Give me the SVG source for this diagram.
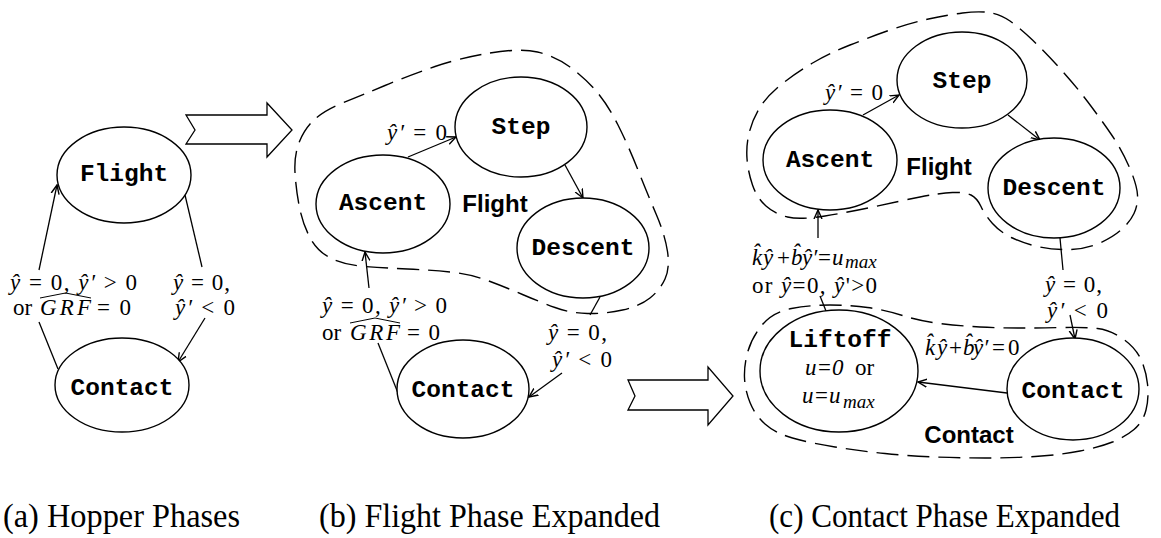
<svg xmlns="http://www.w3.org/2000/svg" width="1161" height="538" viewBox="0 0 1161 538">
  <style>
    .bg { fill: #fff; }
    .node { fill: #fff; stroke: #000; stroke-width: 1.4; }
    .mono { font-family: "Liberation Mono", "Courier New", monospace; font-weight: bold; font-size: 24.5px; text-anchor: middle; fill: #000; }
    .math { font-family: "Liberation Serif", "Times New Roman", serif; font-size: 23px; fill: #000; }
    .i { font-style: italic; }
    .sub { font-size: 19px; font-style: italic; }
    .region { font-family: "Liberation Sans", Arial, sans-serif; font-weight: bold; font-size: 24px; text-anchor: middle; fill: #000; }
    .cap { font-family: "Liberation Serif", "Times New Roman", serif; font-size: 33px; fill: #000; }
    .edge { fill: none; stroke: #000; stroke-width: 1.3; }
    .boundary { fill: none; stroke: #000; stroke-width: 1.4; stroke-dasharray: 22 9; }
    .hat { fill: none; stroke: #000; stroke-width: 1; }
    .block { fill: #fff; stroke: #000; stroke-width: 1.3; stroke-linejoin: miter; }
  </style>
  <defs>
    <marker id="arrow" viewBox="0 0 10 10" refX="9" refY="5" markerWidth="10" markerHeight="10" markerUnits="userSpaceOnUse" orient="auto">
      <path d="M0,1 L9,5 L0,9" fill="none" stroke="#000" stroke-width="1.4"/>
    </marker>
  </defs>

  <rect class="bg" x="0" y="0" width="1161" height="538"/>

  <!-- dashed phase regions -->
  <g id="regions">
    <path id="region-b-flight" class="boundary" d="M490,53 Q520,48 537.5,52 Q555,56 570,67 Q585,78 596.5,91.5 Q608,105 618,125 Q628,145 638,170 Q648,195 656.5,215 Q665,235 667.5,251.5 Q670,268 665,279 Q660,290 650,298 Q640,306 622.5,310 Q605,314 587.5,313.5 Q570,313 555,307.5 Q540,302 522.5,294.5 Q505,287 487.5,280.5 Q470,274 450,272 Q430,270 407.5,269 Q385,268 365,266.5 Q345,265 331.5,258.5 Q318,252 310.5,238.5 Q303,225 299.5,207.5 Q296,190 295,172.5 Q294,155 299.5,141.5 Q305,128 315,119 Q325,110 342.5,103 Q360,96 385,85.5 Q410,75 435,66.5 Q460,58 490,53 Z"/>
    <path id="region-c-flight" class="boundary" d="M962.5,13 Q978,11 989,12.5 Q1000,14 1010,21 Q1020,28 1032.5,40 Q1045,52 1060,68.5 Q1075,85 1087.5,101.5 Q1100,118 1111,134 Q1122,150 1129.5,167.5 Q1137,185 1137.5,195 Q1138,205 1134,213.5 Q1130,222 1121,230 Q1112,238 1098.5,243.5 Q1085,249 1070,249.5 Q1055,250 1040,247 Q1025,244 1012.5,238 Q1000,232 992.5,223.5 Q985,215 981,206.5 Q977,198 971,195 Q965,192 952.5,192.5 Q940,193 920,197 Q900,201 875,206.5 Q850,212 825,216 Q800,220 787.5,217 Q775,214 766,206 Q757,198 752.5,185 Q748,172 747,158.5 Q746,145 749.5,131.5 Q753,118 760.5,106.5 Q768,95 782.5,83.5 Q797,72 813.5,62.5 Q830,53 850,45 Q870,37 890,30 Q910,23 928.5,19 Q947,15 962.5,13 Z"/>
    <path id="region-c-contact" class="boundary" d="M762.5,324.5 Q773,312 791.5,308.5 Q810,305 830,305 Q850,305 867.5,307.5 Q885,310 902.5,315.5 Q920,321 940,323.5 Q960,326 980,327 Q1000,328 1020,328 Q1040,328 1062.5,327.5 Q1085,327 1097.5,328.5 Q1110,330 1122.5,338.5 Q1135,347 1140.5,358.5 Q1146,370 1147.5,384 Q1149,398 1146,410 Q1143,422 1134,429.5 Q1125,437 1112.5,442 Q1100,447 1080,451 Q1060,455 1035,456.5 Q1010,458 985,458 Q960,458 935,457 Q910,456 885,453.5 Q860,451 835,447 Q810,443 792.5,438 Q775,433 765,424 Q755,415 750,402.5 Q745,390 744.5,377.5 Q744,365 748,351 Q752,337 762.5,324.5 Z"/>
    <text class="region" x="495" y="212">Flight</text>
    <text class="region" x="939" y="175">Flight</text>
    <text class="region" x="969" y="443">Contact</text>
  </g>

  <!-- expansion arrows between panels -->
  <g id="expand-arrows">
    <polygon class="block" points="186,115 267,115 267,103 292,130 267,157 267,144 186,144 195,130"/>
    <polygon class="block" points="628,380 708,380 708,367 733,396 708,425 708,410 628,410 635,396"/>
  </g>

  <!-- transitions -->
  <g id="connectors">
    <!-- (a) -->
    <path class="edge" d="M58,369 L39,322"/>
    <path class="edge" d="M39,270 L57,185" marker-end="url(#arrow)"/>
    <path class="edge" d="M185,195 L202,267"/>
    <path class="edge" d="M205,318 L178,362" marker-end="url(#arrow)"/>
    <!-- (b) -->
    <path class="edge" d="M408,157 L456,137" marker-end="url(#arrow)"/>
    <path class="edge" d="M565,165 L583,198" marker-end="url(#arrow)"/>
    <path class="edge" d="M398,393 L378,343"/>
    <path class="edge" d="M369,288 L365,252" marker-end="url(#arrow)"/>
    <path class="edge" d="M600,297 L590,315"/>
    <path class="edge" d="M562,373 L529,397" marker-end="url(#arrow)"/>
    <!-- (c) -->
    <path class="edge" d="M863,115 L899,95" marker-end="url(#arrow)"/>
    <path class="edge" d="M1008,115 L1040,140" marker-end="url(#arrow)"/>
    <path class="edge" d="M818,238 L818,210" marker-end="url(#arrow)"/>
    <path class="edge" d="M820,296 L826,311"/>
    <path class="edge" d="M1060,238 L1063,270"/>
    <path class="edge" d="M1070,315 L1075,339" marker-end="url(#arrow)"/>
    <path class="edge" d="M1007,393 L918,382" marker-end="url(#arrow)"/>
  </g>

  <!-- transition labels -->
  <g id="labels">
    <!-- (a) -->
    <text class="math" x="10" y="290" textLength="127"><tspan class="i">ŷ</tspan> = 0, <tspan class="i">ŷ′</tspan> &gt; 0</text>
    <text class="math" x="13" y="315">or</text>
    <text class="math i" x="40" y="315" textLength="51">GRF</text>
    <path class="hat" d="M40,298 L65.5,293 L91,298"/>
    <text class="math" x="97" y="315" textLength="34">= 0</text>
    <text class="math" x="173" y="290" textLength="57"><tspan class="i">ŷ</tspan> = 0,</text>
    <text class="math" x="175" y="315" textLength="60"><tspan class="i">ŷ′</tspan> &lt; 0</text>
    <!-- (b) -->
    <text class="math" x="387" y="140" textLength="60"><tspan class="i">ŷ′</tspan> = 0</text>
    <text class="math" x="322" y="313" textLength="125"><tspan class="i">ŷ</tspan> = 0, <tspan class="i">ŷ′</tspan> &gt; 0</text>
    <text class="math" x="322" y="340">or</text>
    <text class="math i" x="350" y="340" textLength="50">GRF</text>
    <path class="hat" d="M350,323 L375,318 L400,323"/>
    <text class="math" x="407" y="340" textLength="33">= 0</text>
    <text class="math" x="548" y="340" textLength="59"><tspan class="i">ŷ</tspan> = 0,</text>
    <text class="math" x="552" y="367" textLength="60"><tspan class="i">ŷ′</tspan> &lt; 0</text>
    <!-- (c) -->
    <text class="math" x="825" y="100" textLength="58"><tspan class="i">ŷ′</tspan> = 0</text>
    <text class="math" y="265"><tspan class="i" x="752">k̂</tspan><tspan class="i" x="763">ŷ</tspan><tspan x="777">+</tspan><tspan class="i" x="791">b̂</tspan><tspan class="i" x="802">ŷ′</tspan><tspan x="818">=</tspan><tspan class="i" x="832">u</tspan><tspan class="sub" x="845" dy="3">max</tspan></text>
    <text class="math" x="752" y="293" textLength="125">or <tspan class="i">ŷ</tspan>=0, <tspan class="i">ŷ</tspan>'&gt;0</text>
    <text class="math" x="1045" y="292" textLength="57"><tspan class="i">ŷ</tspan> = 0,</text>
    <text class="math" x="1047" y="318" textLength="61"><tspan class="i">ŷ′</tspan> &lt; 0</text>
    <text class="math" y="355"><tspan class="i" x="925">k̂</tspan><tspan class="i" x="937">ŷ</tspan><tspan x="949">+</tspan><tspan class="i" x="963">b̂</tspan><tspan class="i" x="973">ŷ′</tspan><tspan x="992">=</tspan><tspan x="1008">0</tspan></text>
  </g>

  <!-- (a) Hopper phases -->
  <g id="a-flight">
    <ellipse class="node" cx="124" cy="175" rx="67" ry="48"/>
    <text class="mono" x="124" y="181">Flight</text>
  </g>
  <g id="a-contact">
    <ellipse class="node" cx="122" cy="385" rx="67" ry="47"/>
    <text class="mono" x="122" y="395">Contact</text>
  </g>

  <!-- (b) Flight phase expanded -->
  <g id="b-step">
    <ellipse class="node" cx="521" cy="127" rx="66" ry="50"/>
    <text class="mono" x="521" y="134">Step</text>
  </g>
  <g id="b-ascent">
    <ellipse class="node" cx="383" cy="204" rx="67" ry="49"/>
    <text class="mono" x="383" y="210">Ascent</text>
  </g>
  <g id="b-descent">
    <ellipse class="node" cx="583" cy="248" rx="66" ry="50"/>
    <text class="mono" x="583" y="255">Descent</text>
  </g>
  <g id="b-contact">
    <ellipse class="node" cx="463" cy="389" rx="66" ry="49"/>
    <text class="mono" x="463" y="397">Contact</text>
  </g>

  <!-- (c) Contact phase expanded -->
  <g id="c-step">
    <ellipse class="node" cx="962" cy="80" rx="65" ry="48"/>
    <text class="mono" x="962" y="88">Step</text>
  </g>
  <g id="c-ascent">
    <ellipse class="node" cx="830" cy="160" rx="67" ry="50"/>
    <text class="mono" x="830" y="167">Ascent</text>
  </g>
  <g id="c-descent">
    <ellipse class="node" cx="1054" cy="188" rx="66" ry="50"/>
    <text class="mono" x="1054" y="195">Descent</text>
  </g>
  <g id="c-liftoff">
    <ellipse class="node" cx="839" cy="371" rx="79" ry="61"/>
    <text class="mono" x="840" y="347">Liftoff</text>
    <text class="math"><tspan class="i" x="805" y="375">u=0</tspan><tspan x="855" y="375">or</tspan></text>
    <text class="math i"><tspan x="802" y="403">u=u</tspan><tspan class="sub" x="843" y="408">max</tspan></text>
  </g>
  <g id="c-contact">
    <ellipse class="node" cx="1073" cy="389" rx="66" ry="51"/>
    <text class="mono" x="1073" y="398">Contact</text>
  </g>

  <!-- captions -->
  <g id="captions">
    <text class="cap" x="3" y="527" textLength="237" lengthAdjust="spacingAndGlyphs">(a) Hopper Phases</text>
    <text class="cap" x="319" y="527" textLength="341" lengthAdjust="spacingAndGlyphs">(b) Flight Phase Expanded</text>
    <text class="cap" x="769" y="527" textLength="351" lengthAdjust="spacingAndGlyphs">(c) Contact Phase Expanded</text>
  </g>
</svg>
